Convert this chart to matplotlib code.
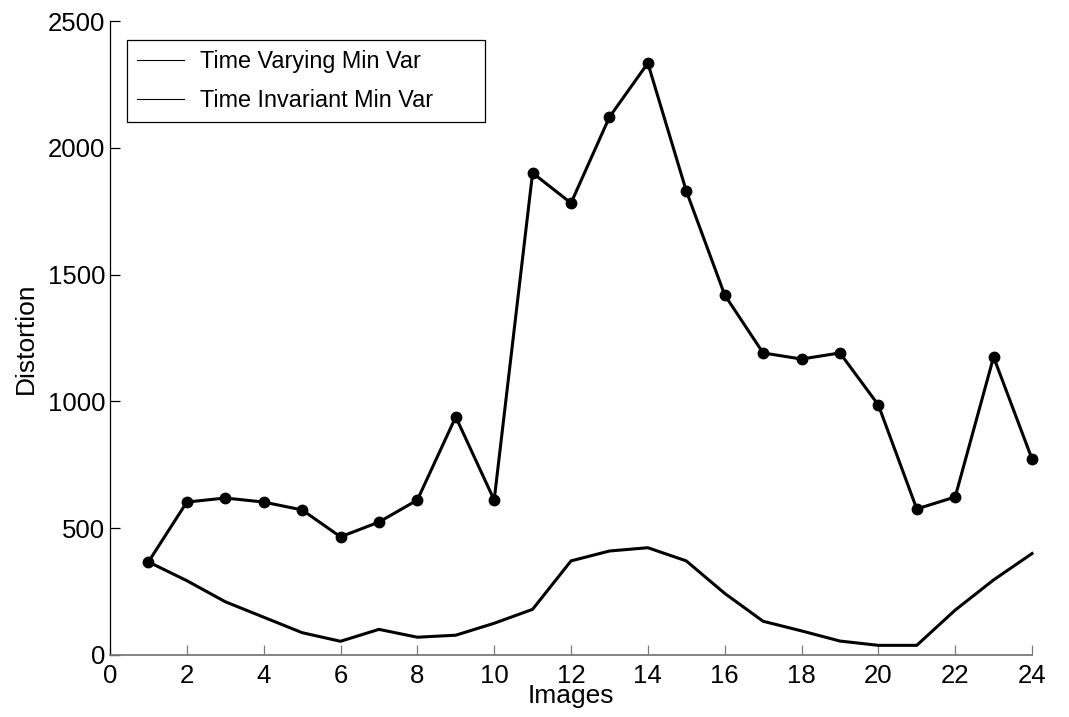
import matplotlib
matplotlib.use("Agg")
import matplotlib.pyplot as plt
from matplotlib.lines import Line2D
from matplotlib.patches import Rectangle

plt.rcParams['font.family'] = ['Liberation Sans', 'DejaVu Sans']

images = list(range(1, 25))
time_varying = [367, 603, 619, 603, 572, 466, 524, 611, 939, 611,
                1901, 1782, 2121, 2334, 1830, 1420, 1191, 1167, 1191, 986,
                576, 623, 1175, 773]
time_invariant = [367, 293, 210, 149, 88, 54, 101, 70, 78, 125,
                  180, 371, 410, 423, 371, 243, 133, 95, 55, 38,
                  38, 177, 296, 400]
legend_labels = ["Time Varying Min Var", "Time Invariant Min Var"]
x_ticks = list(range(0, 25, 2))
y_ticks = [0, 500, 1000, 1500, 2000, 2500]

fig = plt.figure(figsize=(10.69, 7.17), dpi=100)
ax = fig.add_axes([0.1029, 0.0865, 0.8625, 0.8842])

ax.plot(images, time_varying, color='black', lw=2.2, marker='o', markersize=7.5,
        clip_on=False)
ax.plot(images, time_invariant, color='black', lw=2.2, clip_on=False)

ax.set_xlim(0, 24)
ax.set_ylim(0, 2500)
ax.set_xticks(x_ticks)
ax.set_yticks(y_ticks)

for s in ['top', 'right']:
    ax.spines[s].set_visible(False)
ax.spines['bottom'].set_color('#7a7a7a')
ax.spines['bottom'].set_linewidth(1.3)
ax.spines['left'].set_color('black')
ax.spines['left'].set_linewidth(0.9)

ax.tick_params(axis='x', direction='in', length=7, width=0.9, color='#7a7a7a',
               labelsize=18.5, pad=6.5)
ax.tick_params(axis='y', direction='in', length=7, width=0.9, color='black',
               labelsize=18.5, pad=3.6)

ax.set_xlabel("Images", fontsize=19, labelpad=-3)
ax.set_ylabel("Distortion", fontsize=19, labelpad=7)

handles = [Line2D([], [], color='black', lw=0.8) for _ in legend_labels]
leg = ax.legend(handles, legend_labels, loc='upper left',
                bbox_to_anchor=(0.0293, 0.954), fontsize=16.8, frameon=False,
                handlelength=2.0, handletextpad=0.7, borderpad=0,
                labelspacing=0.67, borderaxespad=0)
ax.add_patch(Rectangle((0.0184, 0.8407), 0.3883, 0.1293, transform=ax.transAxes,
                       fill=False, edgecolor='black', lw=0.9, zorder=5))

fig.savefig("out.png", dpi=100)
